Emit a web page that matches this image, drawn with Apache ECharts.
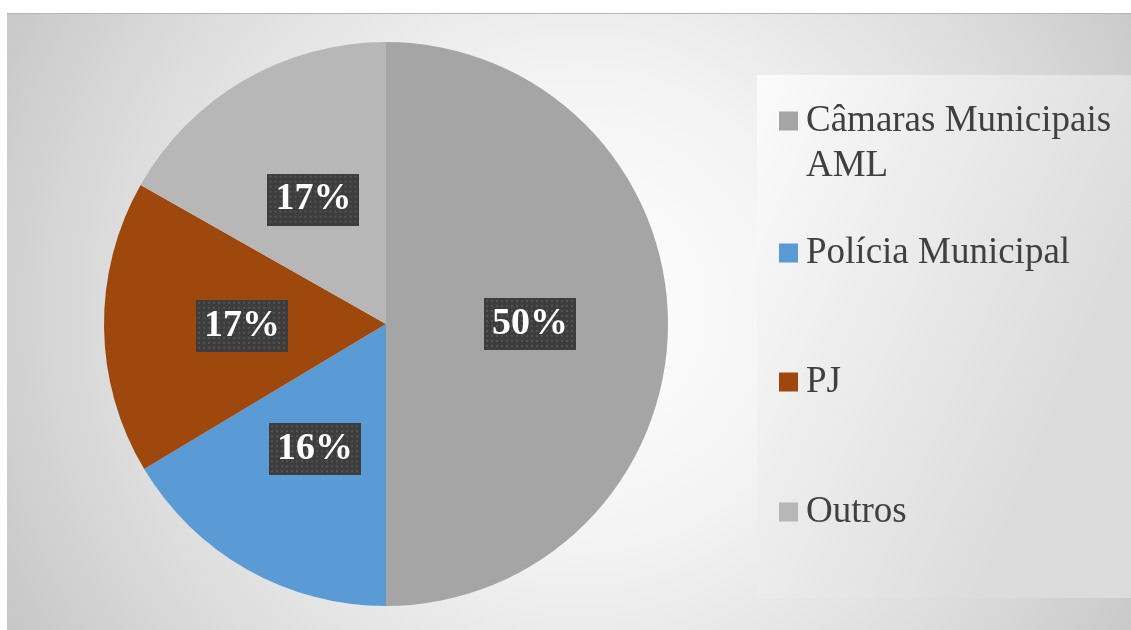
<!DOCTYPE html>
<html>
<head>
<meta charset="utf-8">
<script src="https://cdn.jsdelivr.net/npm/echarts@6/dist/echarts.min.js"></script>
<style>
html,body{margin:0;padding:0;background:#ffffff;}
#chart{width:1131px;height:630px;}
</style>
</head>
<body>
<div id="chart"></div>
<script>
var categories = ['Câmaras Municipais AML', 'Polícia Municipal', 'PJ', 'Outros'];
var values = [50, 16.4, 16.8, 16.8];
var colors = ['#a5a5a5', '#5b9bd5', '#9e480e', '#b7b7b7'];
var legendLabels = ['Câmaras Municipais', 'Polícia Municipal', 'PJ', 'Outros'];
var legendExtraLine = 'AML';

function makePattern(w, h) {
  var c = document.createElement('canvas');
  c.width = w; c.height = h;
  var g = c.getContext('2d');
  g.fillStyle = '#3d3d3d';
  g.fillRect(0, 0, w, h);
  g.fillStyle = '#535353';
  for (var y = 2; y < h; y += 5) {
    for (var x = 2; x < w; x += 5) {
      g.fillRect(x, y, 2, 2);
    }
  }
  return c;
}
var pattern = makePattern(92, 52);

var chart = echarts.init(document.getElementById('chart'), null, {renderer: 'canvas'});

var legendCenters = [121, 253, 382, 512];
var legends = categories.map(function (name, i) {
  return {
    data: [name],
    orient: 'vertical',
    left: 779,
    top: legendCenters[i] - 24,
    padding: 0,
    itemWidth: 19,
    itemHeight: 19,
    itemGap: 8,
    icon: 'rect',
    selectedMode: false,
    formatter: function () { return legendLabels[i]; },
    textStyle: {
      color: '#404040',
      fontFamily: 'Liberation Serif',
      fontSize: 37,
      lineHeight: 43,
      padding: [5, 0, 0, 3]
    }
  };
});

var option = {
  animation: false,
  color: colors,
  graphic: [
    {
      type: 'rect', z: -10, silent: true,
      shape: {x: 7, y: 13, width: 1124, height: 617},
      style: {
        fill: new echarts.graphic.RadialGradient(580, 310, 680, [
          {offset: 0, color: '#ffffff'},
          {offset: 0.35, color: '#f3f3f3'},
          {offset: 0.7, color: '#dcdcdc'},
          {offset: 1, color: '#c4c4c4'}
        ], true)
      }
    },
    {
      type: 'rect', z: -9, silent: true,
      shape: {x: 7, y: 13, width: 1124, height: 1},
      style: {fill: '#b5b5b5'}
    },
    {
      type: 'rect', z: -9, silent: true,
      shape: {x: 757, y: 75, width: 374, height: 523},
      style: {
        fill: new echarts.graphic.LinearGradient(0, 0, 1, 0.3, [
          {offset: 0, color: '#fbfbfb'},
          {offset: 1, color: '#dcdcdc'}
        ])
      }
    },
    {
      type: 'text', z: 10, silent: true,
      style: {
        x: 806, y: 166,
        text: legendExtraLine,
        fill: '#404040',
        font: '37px "Liberation Serif"',
        verticalAlign: 'middle',
        align: 'left'
      }
    }
  ],
  legend: legends,
  series: [{
    type: 'pie',
    center: [386, 324],
    radius: 282,
    startAngle: 90,
    clockwise: true,
    silent: true,
    itemStyle: {borderWidth: 0},
    label: {
      show: true,
      position: 'inside',
      formatter: function (p) { return Math.round(p.percent) + '%'; },
      color: '#ffffff',
      fontFamily: 'Liberation Serif',
      fontWeight: 'bold',
      fontSize: 38,
      lineHeight: 42,
      width: 74,
      height: 42,
      overflow: 'none',
      align: 'center',
      verticalAlign: 'middle',
      padding: [5, 9, 5, 9],
      backgroundColor: {image: pattern},
      shadowColor: 'rgba(0,0,0,0.45)',
      shadowBlur: 6,
      shadowOffsetX: 3,
      shadowOffsetY: 3
    },
    labelLine: {show: false},
    data: categories.map(function (n, i) { return {name: n, value: values[i]}; })
  }]
};
chart.setOption(option);
</script>
</body>
</html>
